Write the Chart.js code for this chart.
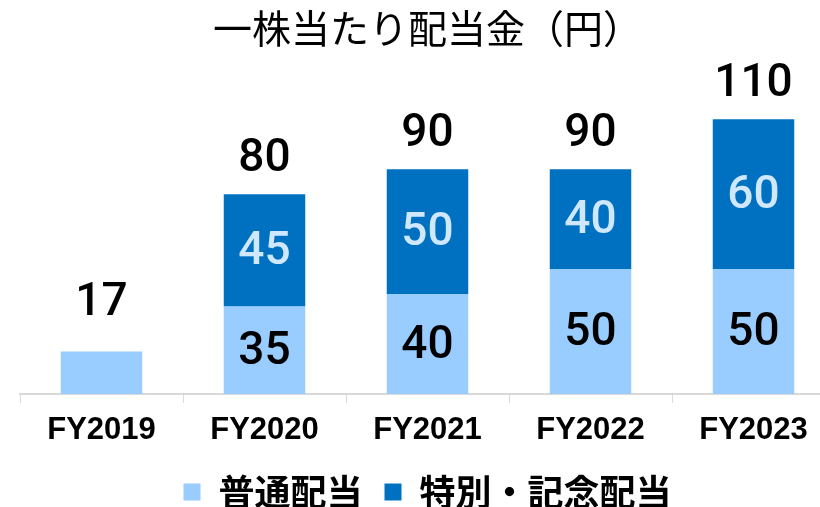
<!DOCTYPE html>
<html lang="ja">
<head>
<meta charset="UTF-8">
<title>一株当たり配当金（円）</title>
<script src="https://cdn.jsdelivr.net/npm/chart.js@4.4.0/dist/chart.umd.min.js"></script>
<style>
  html, body { margin: 0; padding: 0; background: #fff; overflow: hidden; }
  .wrap { width: 840px; height: 507px; }
</style>
</head>
<body>
<div class="wrap"><canvas id="dividendChart"></canvas></div>
<script>
// データ
const years = ['FY2019', 'FY2020', 'FY2021', 'FY2022', 'FY2023'];
const regularDividend = [17, 35, 40, 50, 50];   // 普通配当
const specialDividend = [0, 45, 50, 40, 60];    // 特別・記念配当
const seriesNames = ['普通配当', '特別・記念配当'];

const LIGHT = '#99ccff';
const DARK = '#0070c0';
const NUM_FONT = '500 46px Roboto, "Liberation Sans", sans-serif';

// 棒の中と上に数値を描く
const valueLabels = {
  id: 'valueLabels',
  afterDatasetsDraw(chart) {
    const ctx = chart.ctx;
    const metaReg = chart.getDatasetMeta(0);
    const metaSp = chart.getDatasetMeta(1);
    ctx.save();
    ctx.font = NUM_FONT;
    ctx.textAlign = 'center';
    ctx.textBaseline = 'middle';
    years.forEach((y, i) => {
      const reg = metaReg.data[i];
      const sp = metaSp.data[i];
      if (specialDividend[i] > 0) {
        // 内側のラベル
        ctx.fillStyle = '#000';
        ctx.fillText(String(regularDividend[i]), reg.x, (reg.y + reg.base) / 2 + 2);
        ctx.fillStyle = '#cfe8ff';
        ctx.fillText(String(specialDividend[i]), sp.x, (sp.y + sp.base) / 2 + 2);
      }
      // 合計
      const total = regularDividend[i] + specialDividend[i];
      const top = specialDividend[i] > 0 ? sp.y : reg.y;
      ctx.fillStyle = '#000';
      ctx.fillText(String(total), reg.x, top - (specialDividend[i] > 0 ? 35 : 48));
    });
    ctx.restore();
  }
};

const ctx = document.getElementById('dividendChart').getContext('2d');
new Chart(ctx, {
  type: 'bar',
  data: {
    labels: years,
    datasets: [
      {
        label: seriesNames[0],
        data: regularDividend,
        backgroundColor: LIGHT,
        barPercentage: 1,
        categoryPercentage: 0.5
      },
      {
        label: seriesNames[1],
        data: specialDividend,
        backgroundColor: DARK,
        barPercentage: 1,
        categoryPercentage: 0.5
      }
    ]
  },
  options: {
    responsive: true,
    maintainAspectRatio: false,
    animation: false,
    layout: { padding: { left: 20, right: 5, top: 0, bottom: -13 } },
    plugins: {
      title: {
        display: true,
        text: '一株当たり配当金（円）',
        color: '#000',
        font: { family: '"Noto Sans CJK JP", sans-serif', size: 39, weight: 'normal', lineHeight: 1.2 },
        padding: { top: 5, bottom: 0 }
      },
      legend: {
        position: 'bottom',
        labels: {
          color: '#000',
          boxWidth: 17,
          boxHeight: 17,
          padding: 22,
          font: { family: '"Noto Sans CJK JP", sans-serif', size: 36, weight: 'bold' }
        }
      },
      tooltip: { enabled: false }
    },
    scales: {
      x: {
        stacked: true,
        offset: true,
        afterFit(scale) { scale.height = 58; },
        grid: {
          offset: true,
          drawOnChartArea: false,
          drawTicks: true,
          tickLength: 9,
          color: '#d9d9d9'
        },
        border: { display: true, color: '#d9d9d9', width: 2 },
        ticks: {
          color: '#000',
          padding: 9,
          font: { family: '"Liberation Sans", Arial, sans-serif', size: 31, weight: 'bold' }
        }
      },
      y: {
        stacked: true,
        display: false,
        min: 0,
        max: 137
      }
    }
  },
  plugins: [valueLabels]
});
</script>
</body>
</html>
